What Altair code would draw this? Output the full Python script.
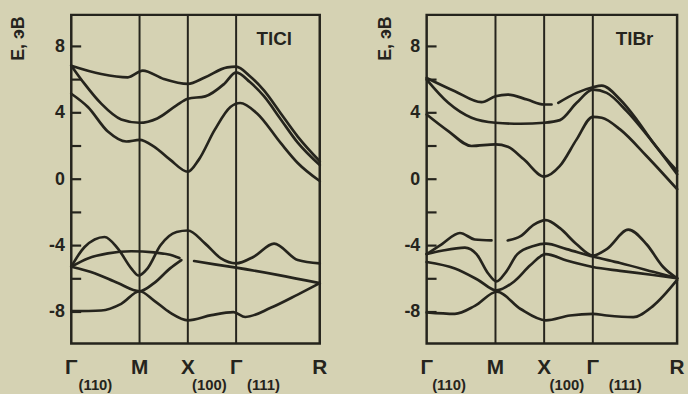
import altair as alt
import pandas as pd

# ---- Brillouin-zone path (k in units of 2*pi/a) ----
K_NODES = [0.0, 0.707, 1.207, 1.707, 2.573]
NODE_NAMES = ["Γ", "M", "X", "Γ", "R"]
DIRECTIONS = ["(110)", "(100)", "(111)"]
DIR_K_TLCL = [0.25, 1.43, 1.99]
DIR_K_TLBR = [0.23, 1.44, 2.04]

Y_TICKS = [-8, -6, -4, -2, 0, 2, 4, 6, 8]
Y_LABELS = [-8, -4, 0, 4, 8]

# ---- TlCl: conduction bands ----
TLCL_C3_K = [0, 0.31, 0.586, 0.74, 0.957, 1.207, 1.387, 1.615, 1.707, 1.85, 1.995, 2.17, 2.345, 2.573]
TLCL_C3_E = [6.84, 6.34, 6.14, 6.54, 6.04, 5.74, 6.14, 6.74, 6.78, 6.2, 5.35, 3.96, 2.57, 1.08]
TLCL_C2_K = [0, 0.138, 0.31, 0.517, 0.707, 0.89, 1.09, 1.207, 1.387, 1.583, 1.707, 1.85, 1.995, 2.17, 2.345, 2.573]
TLCL_C2_E = [6.84, 5.74, 4.55, 3.60, 3.40, 3.66, 4.45, 4.85, 4.99, 5.74, 6.44, 5.85, 5.0, 3.6, 2.2, 0.85]
TLCL_C1_K = [0, 0.172, 0.379, 0.569, 0.707, 0.857, 1.023, 1.207, 1.321, 1.485, 1.648, 1.749, 1.924, 2.17, 2.345, 2.573]
TLCL_C1_E = [5.15, 4.35, 2.87, 2.27, 2.37, 1.97, 1.18, 0.45, 1.18, 2.97, 4.35, 4.59, 3.96, 2.17, 0.98, -0.11]

# ---- TlCl: valence bands ----
TLCL_V1_K = [0, 0.138, 0.345, 0.483, 0.621, 0.697, 0.79, 0.924, 1.09, 1.207, 1.387, 1.55, 1.707, 1.889, 2.1, 2.345, 2.573]
TLCL_V1_E = [-5.27, -4.08, -3.48, -4.18, -5.37, -5.80, -5.37, -3.98, -3.18, -3.09, -3.88, -4.77, -5.07, -4.67, -3.88, -4.87, -5.07]
TLCL_V2_K = [0, 0.172, 0.379, 0.621, 0.857, 1.057, 1.12, 1.272, 1.485, 1.707, 2.135, 2.573]
TLCL_V2_E = [-5.27, -4.77, -4.47, -4.34, -4.41, -4.61, -4.75, -4.93, -5.13, -5.33, -5.76, -6.26]
TLCL_V2_GAPS = [6]
TLCL_V3_K = [0, 0.241, 0.483, 0.707, 0.857, 1.023, 1.14]
TLCL_V3_E = [-5.27, -5.66, -6.26, -6.75, -6.26, -5.37, -4.87]
TLCL_V4_K = [0, 0.31, 0.517, 0.707, 0.857, 1.023, 1.207, 1.452, 1.68, 1.802, 2.065, 2.345, 2.573]
TLCL_V4_E = [-7.95, -7.91, -7.51, -6.75, -7.31, -8.04, -8.50, -8.19, -8.01, -8.30, -7.75, -6.95, -6.26]

# ---- TlBr: conduction bands ----
TLBR_C3_K = [0, 0.29, 0.563, 0.707, 0.833, 1.031, 1.207, 1.283, 1.352, 1.541, 1.707, 1.799, 1.987, 2.157, 2.327, 2.573]
TLBR_C3_E = [6.10, 5.30, 4.64, 5.00, 5.10, 4.80, 4.50, 4.50, 4.60, 5.20, 5.54, 5.64, 4.80, 3.60, 2.20, 0.50]
TLBR_C3_GAPS = [7]
TLBR_C2_K = [0, 0.222, 0.461, 0.707, 0.965, 1.207, 1.369, 1.541, 1.707, 1.85, 2.055, 2.259, 2.573]
TLBR_C2_E = [6.00, 4.60, 3.70, 3.40, 3.34, 3.40, 3.56, 4.60, 5.40, 5.20, 4.10, 2.70, 0.30]
TLBR_C1_K = [0, 0.222, 0.461, 0.707, 0.833, 0.998, 1.207, 1.369, 1.541, 1.707, 1.799, 1.987, 2.259, 2.573]
TLBR_C1_E = [3.90, 2.90, 2.00, 2.10, 1.96, 1.20, 0.16, 0.80, 2.40, 3.76, 3.70, 3.00, 1.40, -0.60]

# ---- TlBr: valence bands ----
TLBR_V1_K = [0, 0.154, 0.342, 0.495, 0.666, 0.833, 0.965, 1.098, 1.224, 1.369, 1.541, 1.707, 1.85, 2.072, 2.259, 2.43, 2.573]
TLBR_V1_E = [-4.51, -3.92, -3.24, -3.63, -3.69, -3.69, -3.43, -2.75, -2.46, -2.95, -3.92, -4.60, -4.21, -3.04, -3.92, -5.29, -5.97]
TLBR_V1_GAPS = [4]
TLBR_V2_K = [0, 0.154, 0.393, 0.512, 0.632, 0.717, 0.816, 0.932, 1.098, 1.224, 1.438, 1.707, 1.987, 2.327, 2.573]
TLBR_V2_E = [-4.51, -4.31, -4.12, -4.51, -5.68, -6.16, -5.58, -4.51, -4.02, -3.88, -4.21, -4.66, -5.05, -5.58, -5.97]
TLBR_V3_K = [0, 0.29, 0.529, 0.717, 0.899, 1.064, 1.224, 1.438, 1.707, 1.987, 2.327, 2.573]
TLBR_V3_E = [-4.99, -5.38, -6.07, -6.70, -6.16, -5.19, -4.51, -4.90, -5.29, -5.52, -5.77, -5.97]
TLBR_V4_K = [0, 0.29, 0.495, 0.722, 0.965, 1.224, 1.472, 1.707, 1.85, 2.123, 2.327, 2.573]
TLBR_V4_E = [-8.02, -8.11, -7.63, -6.78, -7.82, -8.50, -8.21, -8.11, -8.21, -8.31, -7.63, -6.07]

INK = "#25241d"
PAPER = "#d5d2b3"
FONT = "Liberation Sans"
PANEL_H = 332
K_END = K_NODES[-1]


def band_rows(name, ks, es, gaps=()):
    rows, piece = [], 0
    for i, (k, e) in enumerate(zip(ks, es)):
        rows.append({"band": f"{name}-{piece}", "k": k, "E": e, "i": i})
        if i in gaps:
            piece += 1
    return rows


tlcl = pd.DataFrame(
    band_rows("c3", TLCL_C3_K, TLCL_C3_E)
    + band_rows("c2", TLCL_C2_K, TLCL_C2_E)
    + band_rows("c1", TLCL_C1_K, TLCL_C1_E)
    + band_rows("v1", TLCL_V1_K, TLCL_V1_E)
    + band_rows("v2", TLCL_V2_K, TLCL_V2_E, TLCL_V2_GAPS)
    + band_rows("v3", TLCL_V3_K, TLCL_V3_E)
    + band_rows("v4", TLCL_V4_K, TLCL_V4_E)
)
tlbr = pd.DataFrame(
    band_rows("c3", TLBR_C3_K, TLBR_C3_E, TLBR_C3_GAPS)
    + band_rows("c2", TLBR_C2_K, TLBR_C2_E)
    + band_rows("c1", TLBR_C1_K, TLBR_C1_E)
    + band_rows("v1", TLBR_V1_K, TLBR_V1_E, TLBR_V1_GAPS)
    + band_rows("v2", TLBR_V2_K, TLBR_V2_E)
    + band_rows("v3", TLBR_V3_K, TLBR_V3_E)
    + band_rows("v4", TLBR_V4_K, TLBR_V4_E)
)


def panel(df, name, width, title_x, name_x, dir_k):
    xs = alt.Scale(domain=[0, K_END], nice=False, zero=False)
    ys = alt.Scale(domain=[-9.9, 9.9], nice=False, zero=False)

    e_axis = alt.Axis(
        values=Y_LABELS,
        ticks=False,
        domain=False,
        grid=False,
        labelExpr="datum.value < 0 ? '-' + abs(datum.value) : '' + datum.value",
        labelFont=FONT,
        labelFontSize=18,
        labelFontWeight="bold",
        labelColor=INK,
        labelPadding=7,
        title="E, эВ",
        titleFont=FONT,
        titleFontSize=18,
        titleFontWeight="bold",
        titleColor=INK,
        titleAngle=270,
        titleX=title_x,
        titleY=1,
        titleAlign="right",
        titleBaseline="middle",
    )

    # short inward tick marks every 2 eV, carrying the energy axis
    ticks = alt.Chart(pd.DataFrame({"E": Y_TICKS})).mark_rule(
        color=INK, strokeWidth=2.2
    ).encode(
        y=alt.Y("E:Q", scale=ys, axis=e_axis),
        x=alt.value(0),
        x2=alt.value(10),
    )

    bands = alt.Chart(df).mark_line(
        interpolate="monotone", color=INK, strokeWidth=2.7, strokeCap="round"
    ).encode(
        x=alt.X("k:Q", scale=xs, axis=None),
        y=alt.Y("E:Q", scale=ys, axis=e_axis),
        detail="band:N",
        order="i:Q",
    )

    inner = pd.DataFrame({"k": K_NODES[1:-1]})
    verticals = alt.Chart(inner).mark_rule(color=INK, strokeWidth=2).encode(
        x=alt.X("k:Q", scale=xs, axis=None)
    )

    nodes = pd.DataFrame({"k": K_NODES, "name": NODE_NAMES})
    node_labels = alt.Chart(nodes).mark_text(
        font=FONT, fontSize=21, fontWeight="bold", color=INK, baseline="middle"
    ).encode(
        x=alt.X("k:Q", scale=xs, axis=None),
        y=alt.value(PANEL_H + 25),
        text="name:N",
    )

    dirs = pd.DataFrame({"k": dir_k, "name": DIRECTIONS})
    dir_labels = alt.Chart(dirs).mark_text(
        font=FONT, fontSize=15, fontWeight="bold", color=INK, baseline="middle"
    ).encode(
        x=alt.X("k:Q", scale=xs, axis=None),
        y=alt.value(PANEL_H + 42),
        text="name:N",
    )

    title = alt.Chart(pd.DataFrame({"t": [name]})).mark_text(
        font=FONT, fontSize=19, fontWeight="bold", color=INK, baseline="middle"
    ).encode(
        x=alt.value(name_x),
        y=alt.value(24),
        text="t:N",
    )

    return alt.layer(
        ticks, verticals, bands, node_labels, dir_labels, title
    ).properties(width=width, height=PANEL_H)


left = panel(tlcl, "TlCl", 251, -53, 205, DIR_K_TLCL)
right = panel(tlbr, "TlBr", 253, -42, 210, DIR_K_TLBR)

chart = alt.hconcat(left, right, spacing=108, bounds="flush").properties(
    padding={"left": 8, "top": 10, "right": 2, "bottom": 2},
    background=PAPER,
).configure_view(
    stroke=INK, strokeWidth=2.5
)

chart.save("out.html", embed_options={"renderer": "svg", "actions": False})
